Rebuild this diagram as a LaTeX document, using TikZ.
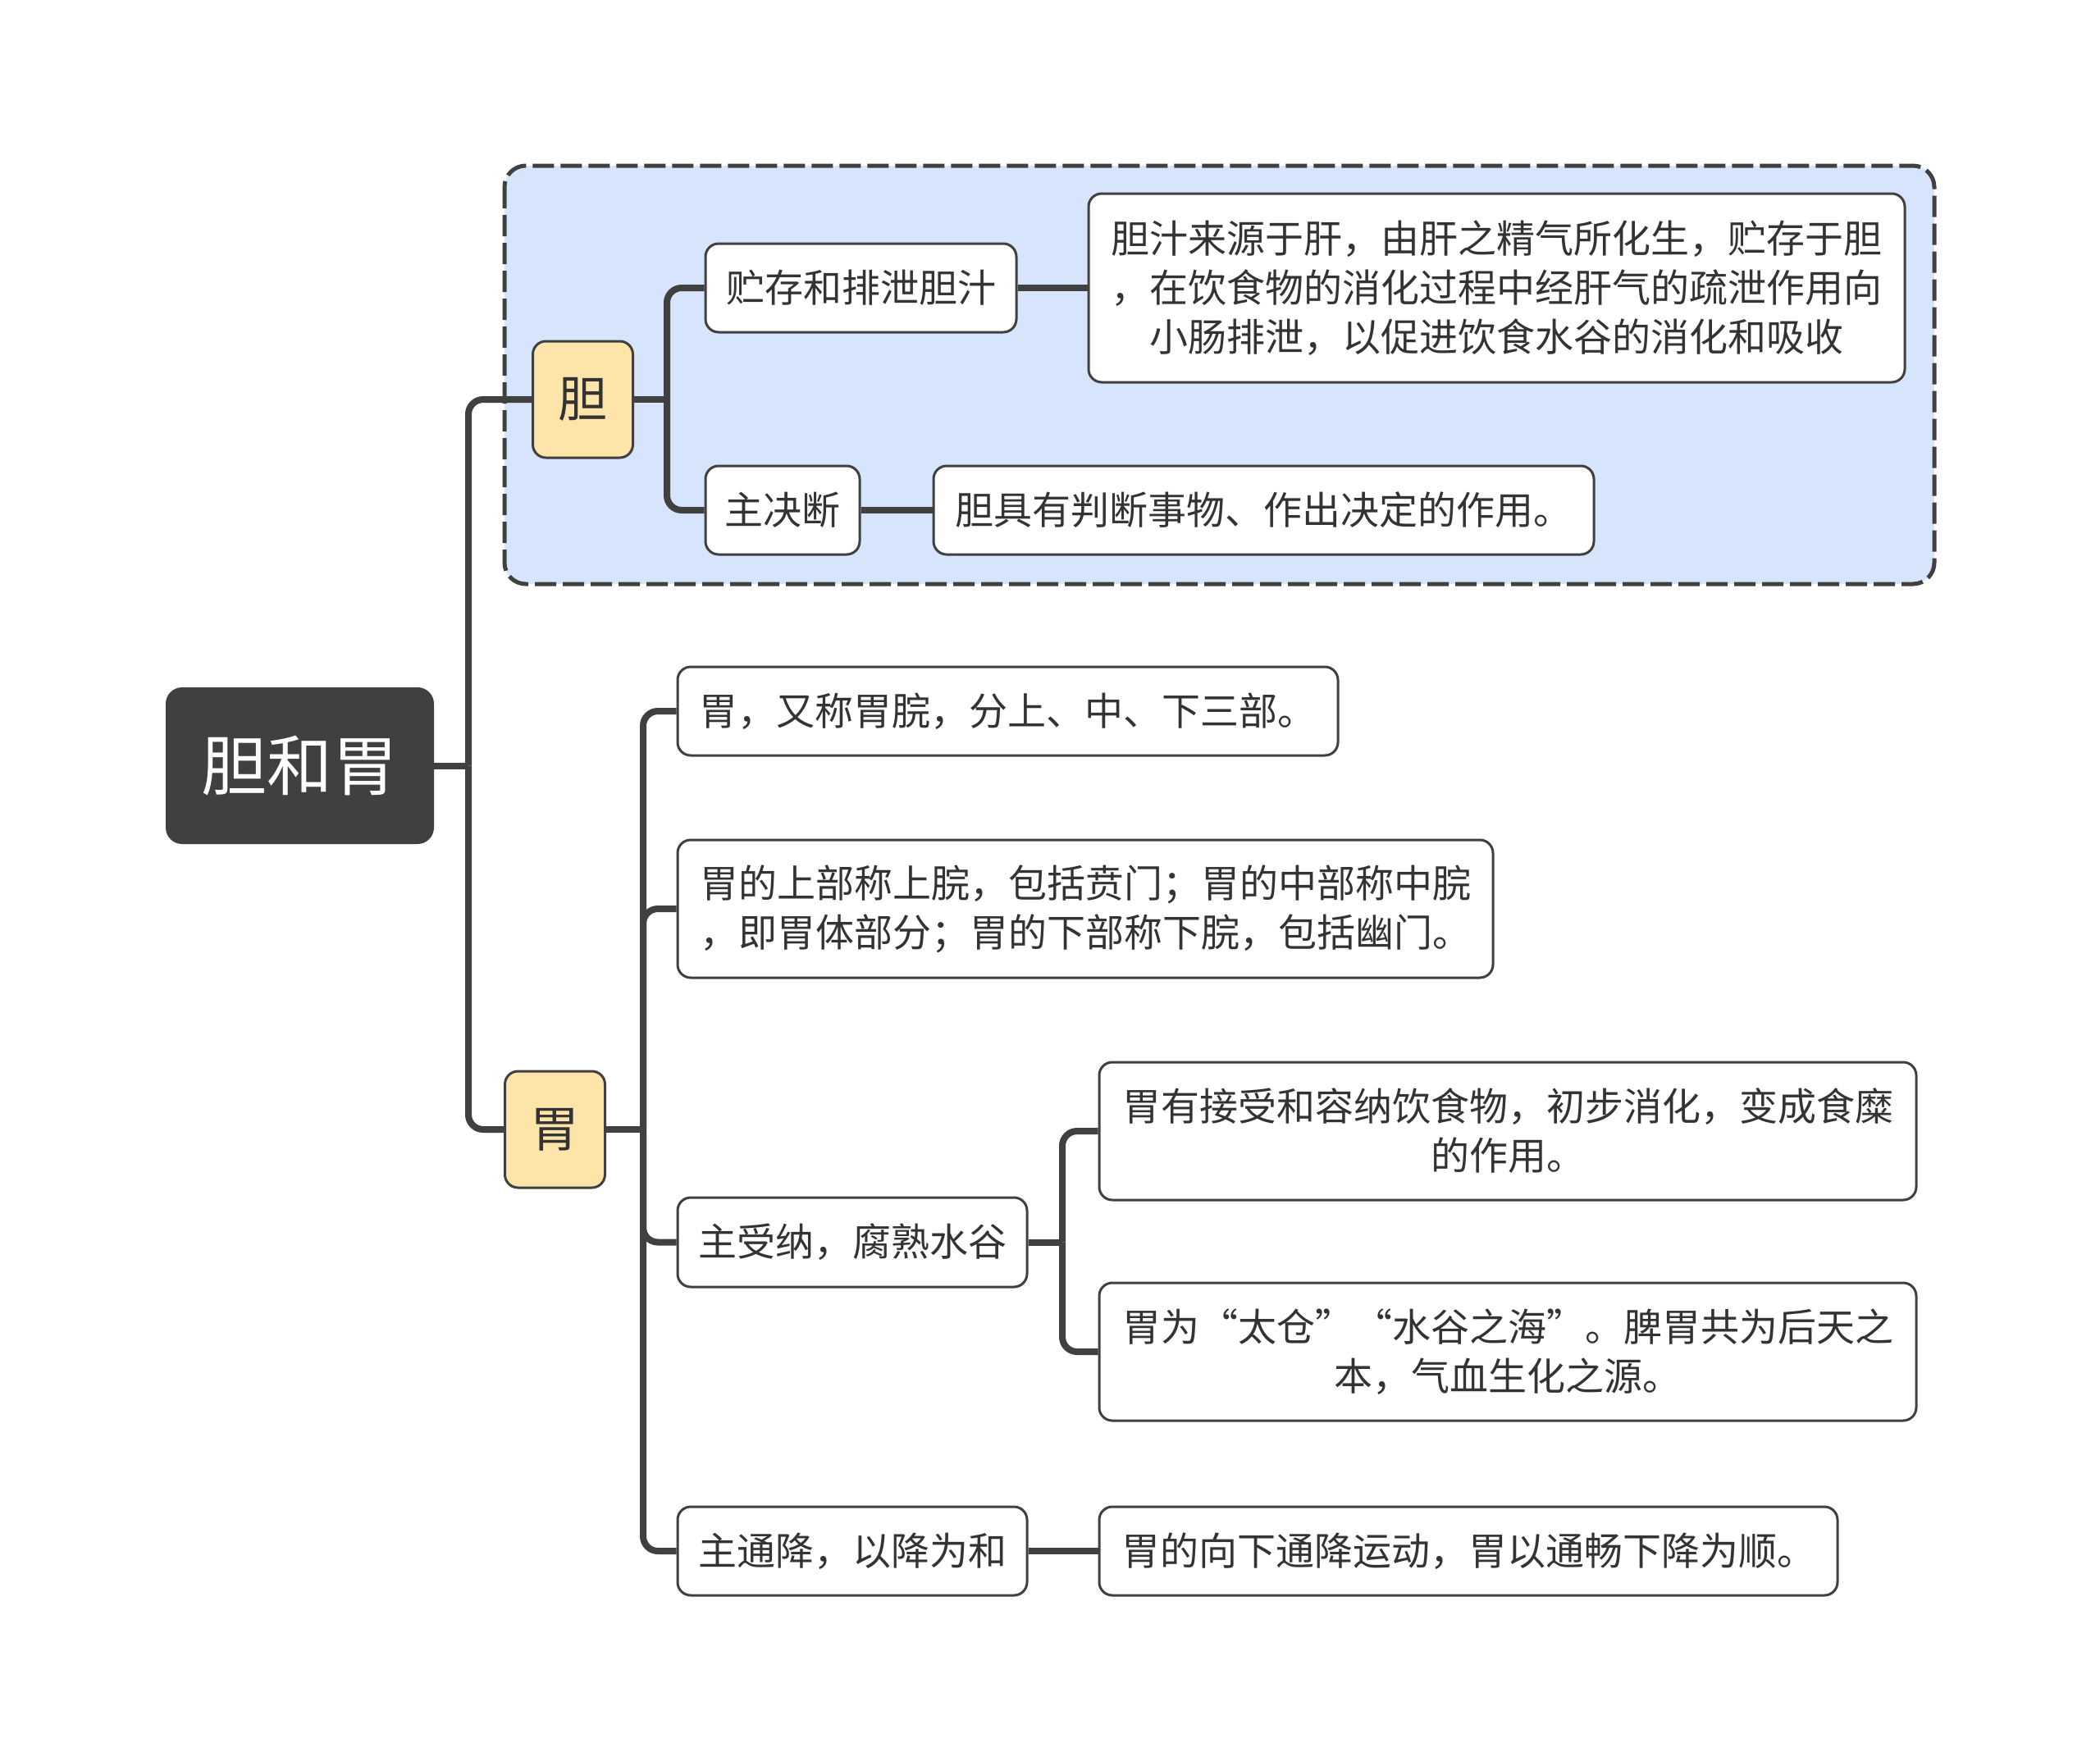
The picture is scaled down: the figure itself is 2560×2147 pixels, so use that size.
\documentclass[tikz,border=0pt]{standalone}
\usepackage{fontspec}
\setmainfont{Noto Sans CJK SC}
\definecolor{edgec}{HTML}{404040}
\definecolor{bluebg}{HTML}{D6E4FC}
\definecolor{yel}{HTML}{FDE4A8}
\definecolor{txt}{HTML}{333333}
\begin{document}
\begin{tikzpicture}[x=0.5pt,y=-0.5pt,
 leaf/.style={draw=edgec, line width=1.5pt, fill=white, rounded corners=8pt, text=txt,
   font=\fontsize{23.5}{30}\selectfont, align=center, inner sep=0pt},
 topic/.style={draw=edgec, line width=1.5pt, fill=yel, rounded corners=8pt, text=txt,
   font=\fontsize{30}{36}\selectfont, inner sep=0pt, minimum width=61pt, minimum height=71pt},
 rootbox/.style={fill=edgec, rounded corners=10pt, text=white,
   font=\fontsize{40}{48}\selectfont, inner sep=0pt, minimum width=163.5pt, minimum height=95.5pt},
 link/.style={draw=edgec, line width=4pt, rounded corners=9pt}]
\useasboundingbox (0,0) rectangle (2560,2147);
\fill[white] (0,0) rectangle (2560,2147);
% dashed group box
\draw[draw=edgec, fill=bluebg, line width=2.5pt, dash pattern=on 13pt off 4pt, rounded corners=13pt]
  (615,202) rectangle (2358,712);
% nodes
\node[rootbox] (root) at (365.5,933.5) {胆和胃};
\node[topic] (dan) at (710.5,487) {胆};
\node[topic] (wei) at (676.5,1377) {胃};
\node[leaf, minimum width=189.5pt, minimum height=54pt] (zhucun) at (1049.5,351) {贮存和排泄胆汁};
\node[leaf, minimum width=497.5pt, minimum height=115pt] (danzhi) at (1824.5,351)
  {胆汁来源于肝，由肝之精气所化生，贮存于胆\\，在饮食物的消化过程中经肝气的疏泄作用向\\小肠排泄，以促进饮食水谷的消化和吸收};
\node[leaf, minimum width=94pt, minimum height=54pt] (juedun) at (954,622) {主决断};
\node[leaf, minimum width=402.5pt, minimum height=54pt] (juyou) at (1540.5,622) {胆具有判断事物、作出决定的作用。};
\node[leaf, minimum width=402.5pt, minimum height=54pt] (w1) at (1228.5,867) {胃，又称胃脘，分上、中、下三部。};
\node[leaf, minimum width=497pt, minimum height=84pt] (w2) at (1323,1108)
  {胃的上部称上脘，包括贲门；胃的中部称中脘\\，即胃体部分；胃的下部称下脘，包括幽门。};
\node[leaf, minimum width=213pt, minimum height=54.5pt] (w3) at (1039,1514.5) {主受纳，腐熟水谷};
\node[leaf, minimum width=498pt, minimum height=84pt] (w3a) at (1838,1379)
  {胃有接受和容纳饮食物，初步消化，变成食糜\\的作用。};
\node[leaf, minimum width=498pt, minimum height=84pt] (w3b) at (1838,1648)
  {胃为“太仓”“水谷之海”。脾胃共为后天之\\本，气血生化之源。};
\node[leaf, minimum width=213pt, minimum height=54pt] (w4) at (1039,1891) {主通降，以降为和};
\node[leaf, minimum width=450pt, minimum height=54pt] (w4a) at (1790,1891) {胃的向下通降运动，胃以通畅下降为顺。};
% junctions
\coordinate (rj) at (571,933.5);
\coordinate (dj) at (813,487);
\coordinate (wj) at (784,1377);
\coordinate (w3j) at (1295,1514.5);
% connectors
\draw[link] (root.east) -- (rj);
\draw[link] (rj) |- (dan.west);
\draw[link] (rj) |- (wei.west);
\draw[link] (dan.east) -- (dj);
\draw[link] (dj) |- (zhucun.west);
\draw[link] (dj) |- (juedun.west);
\draw[link] (zhucun.east) -- (danzhi.west);
\draw[link] (juedun.east) -- (juyou.west);
\draw[link] (wei.east) -- (wj);
\draw[link] (wj) |- (w1.west);
\draw[link] (wj) |- (w2.west);
\draw[link] (wj) |- (w3.west);
\draw[link] (wj) |- (w4.west);
\draw[link] (w3.east) -- (w3j);
\draw[link] (w3j) |- (w3a.west);
\draw[link] (w3j) |- (w3b.west);
\draw[link] (w4.east) -- (w4a.west);
\end{tikzpicture}
\end{document}
